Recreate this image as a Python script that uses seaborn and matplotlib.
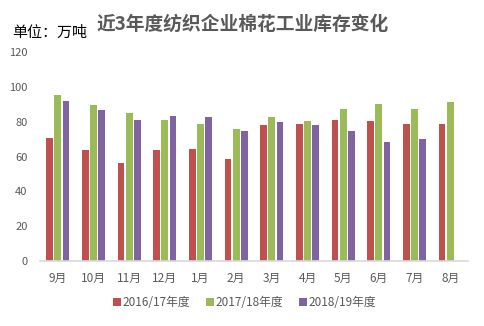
import matplotlib
matplotlib.use("Agg")
import matplotlib.pyplot as plt
import seaborn as sns
import pandas as pd

months = ["9月", "10月", "11月", "12月", "1月", "2月", "3月", "4月", "5月", "6月", "7月", "8月"]
series_names = ["2016/17年度", "2017/18年度", "2018/19年度"]
s2016 = [70.6, 63.7, 56.2, 63.7, 64.3, 58.5, 78.0, 78.6, 80.9, 80.3, 78.6, 78.6]
s2017 = [95.2, 89.5, 84.9, 80.9, 78.6, 75.7, 82.6, 80.3, 87.2, 90.1, 87.2, 91.2]
s2018 = [91.8, 86.6, 80.9, 83.2, 82.6, 74.6, 79.7, 78.0, 74.6, 68.3, 70.0, None]
colors = ["#C0504D", "#9BBB59", "#8064A2"]
title = "近3年度纺织企业棉花工业库存变化"
unit = "单位：万吨"
yticks = [0, 20, 40, 60, 80, 100, 120]

rows = []
for name, vals in zip(series_names, [s2016, s2017, s2018]):
    for m, v in zip(months, vals):
        if v is not None:
            rows.append({"month": m, "series": name, "value": v})
df = pd.DataFrame(rows)

sns.set_theme(style="white")
plt.rcParams["font.family"] = ["Noto Sans CJK SC", "DejaVu Sans"]

fig = plt.figure(figsize=(4.84, 3.26), dpi=100)
ax = fig.add_axes([0.0826, 0.1994, 0.967 - 0.0826, 0.84 - 0.1994])
sns.barplot(data=df, x="month", y="value", hue="series", order=months,
            hue_order=series_names, palette=colors, width=0.68, gap=0.17,
            saturation=1, ax=ax, legend=True, linewidth=0)

ax.set_ylim(0, 120)
ax.set_yticks(yticks)
ax.set_xlim(-0.5, 11.5)
ax.set_xlabel("")
ax.set_ylabel("")
for s in ["top", "right", "left"]:
    ax.spines[s].set_visible(False)
ax.spines["bottom"].set_color("#D9D9D9")
ax.spines["bottom"].set_linewidth(1.2)
ax.tick_params(axis="both", length=0, colors="#595959", labelsize=8)
ax.tick_params(axis="x", pad=8, labelsize=8.5)
ax.tick_params(axis="y", pad=9)

handles, labels = ax.get_legend_handles_labels()
ax.legend_.remove()
fig.legend(handles, labels, loc="center", bbox_to_anchor=(0.505, 0.072), ncol=3,
           frameon=False, fontsize=8.5, handlelength=0.75, handleheight=0.75,
           handletextpad=0.1, columnspacing=1.3, labelcolor="#595959")

fig.text(0.2, 0.926, title, fontsize=13.5, fontweight="bold", color="#595959",
         ha="left", va="center")
fig.text(0.025, 0.898, unit, fontsize=10.8, color="black", ha="left", va="center")

fig.savefig("out.png", dpi=100)
